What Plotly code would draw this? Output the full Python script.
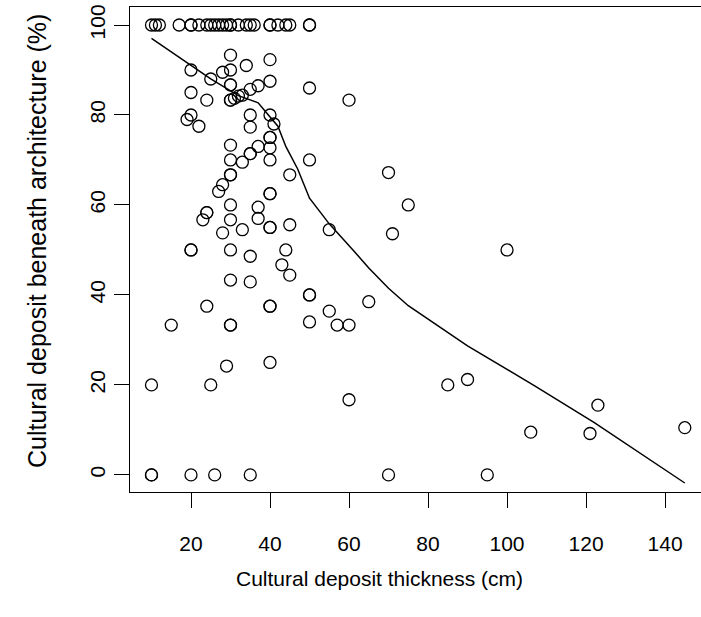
import plotly.graph_objects as go

# Scatter points: cultural deposit thickness (cm) vs. deposit beneath architecture (%)
top_x = [10, 11, 12, 17, 20, 20, 22, 24, 25, 26, 27, 28, 29, 30, 30, 32, 34, 35, 36, 40, 40, 42, 44, 45, 50, 50]
top_y = [100] * len(top_x)

pts_x = [30, 40, 34, 20, 28, 30, 25, 40, 30, 30, 37, 35, 50, 20, 24, 30, 30, 31, 32, 33, 60,
         20, 19, 22, 35, 35, 40, 41, 40, 40, 40, 37, 35, 35, 30, 30, 33, 40, 50, 30, 30, 45,
         28, 27, 40, 40, 30, 37, 24, 24, 23, 30, 37, 33, 40, 40, 45, 55, 28, 20, 20, 30, 35,
         44, 43, 45, 30, 35, 50, 50, 24, 40, 40, 55, 50, 57, 60, 15, 30, 30, 29, 40, 10, 25,
         60, 10, 10, 20, 26, 35, 70, 75, 71, 100, 65, 85, 90, 123, 106, 121, 145, 70, 95]
pts_y = [93.3, 92.3, 91, 90, 89.5, 90, 88, 87.5, 86.7, 86.7, 86.5, 85.7, 86, 85, 83.3, 83.3, 83.3, 83.7, 84.2, 84.4, 83.3,
         80, 79, 77.5, 80, 77.3, 80, 78, 75, 75, 72.7, 73, 71.4, 71.4, 73.3, 70, 69.5, 70, 70, 66.7, 66.7, 66.7,
         64.5, 63, 62.5, 62.5, 60, 59.5, 58.3, 58.3, 56.7, 56.7, 57, 54.5, 55, 55, 55.6, 54.5, 53.8, 50, 50, 50, 48.6,
         50, 46.7, 44.4, 43.3, 42.9, 40, 40, 37.5, 37.5, 37.5, 36.4, 34, 33.3, 33.3, 33.3, 33.3, 33.3, 24.2, 25, 20, 20,
         16.7, 0, 0, 0, 0, 0, 67.2, 60, 53.6, 50, 38.5, 20, 21.2, 15.5, 9.5, 9.2, 10.5, 0, 0]

# Smoothed (lowess) curve
fit_x = [10, 25, 32, 37, 39, 42, 44, 47, 50, 55, 61, 65, 70, 75, 90, 107, 122, 145]
fit_y = [97, 88, 84.3, 82.7, 80.6, 77.5, 73, 68, 61.5, 55.8, 50, 46, 41.5, 37.6, 28.7, 19.8, 11.7, -1.8]

x_ticks = [20, 40, 60, 80, 100, 120, 140]
y_ticks = [0, 20, 40, 60, 80, 100]

FONT = "Liberation Sans, Arial, sans-serif"
marker = dict(symbol="circle-open", size=12, color="black", line=dict(width=1.3, color="black"))

fig = go.Figure()
fig.add_trace(go.Scatter(x=top_x + pts_x, y=top_y + pts_y, mode="markers", marker=marker,
                         showlegend=False, hoverinfo="skip"))
fig.add_trace(go.Scatter(x=fit_x, y=fit_y, mode="lines", line=dict(color="black", width=1.5),
                         showlegend=False, hoverinfo="skip"))

fig.update_layout(
    width=701, height=617,
    margin=dict(l=130, r=0, t=7, b=125),
    paper_bgcolor="white", plot_bgcolor="white",
    font=dict(family=FONT, size=21, color="black"),
    xaxis=dict(range=[4.56, 149.1], tickvals=x_ticks, ticks="outside", ticklen=15, tickwidth=1.3,
               tickcolor="black", showline=True, linecolor="black", linewidth=1.3, mirror=True,
               showgrid=False, zeroline=False, ticklabelstandoff=18, automargin=False),
    yaxis=dict(range=[-3.8, 104.0], tickvals=y_ticks, ticks="outside", ticklen=15, tickwidth=1.3,
               tickcolor="black", showline=True, linecolor="black", linewidth=1.3,
               showgrid=False, zeroline=False, tickangle=-90, ticklabelstandoff=0, automargin=False),
    annotations=[
        dict(text="Cultural deposit thickness (cm)", xref="paper", yref="paper",
             x=(379 - 130) / 571, y=-(578 - 492) / 485, xanchor="center", yanchor="middle",
             showarrow=False, font=dict(family=FONT, size=21, color="black")),
        dict(text="Cultural deposit beneath architecture (%)", xref="paper", yref="paper",
             x=-(130 - 37) / 571, y=(492 - 241) / 485, xanchor="center", yanchor="middle",
             textangle=-90, showarrow=False, font=dict(family=FONT, size=25, color="black")),
    ],
)

fig.write_html("out.html", config={"displayModeBar": False},
               post_script="document.body.style.margin='0';document.body.style.overflow='hidden';"
                           "document.documentElement.style.overflow='hidden';")
